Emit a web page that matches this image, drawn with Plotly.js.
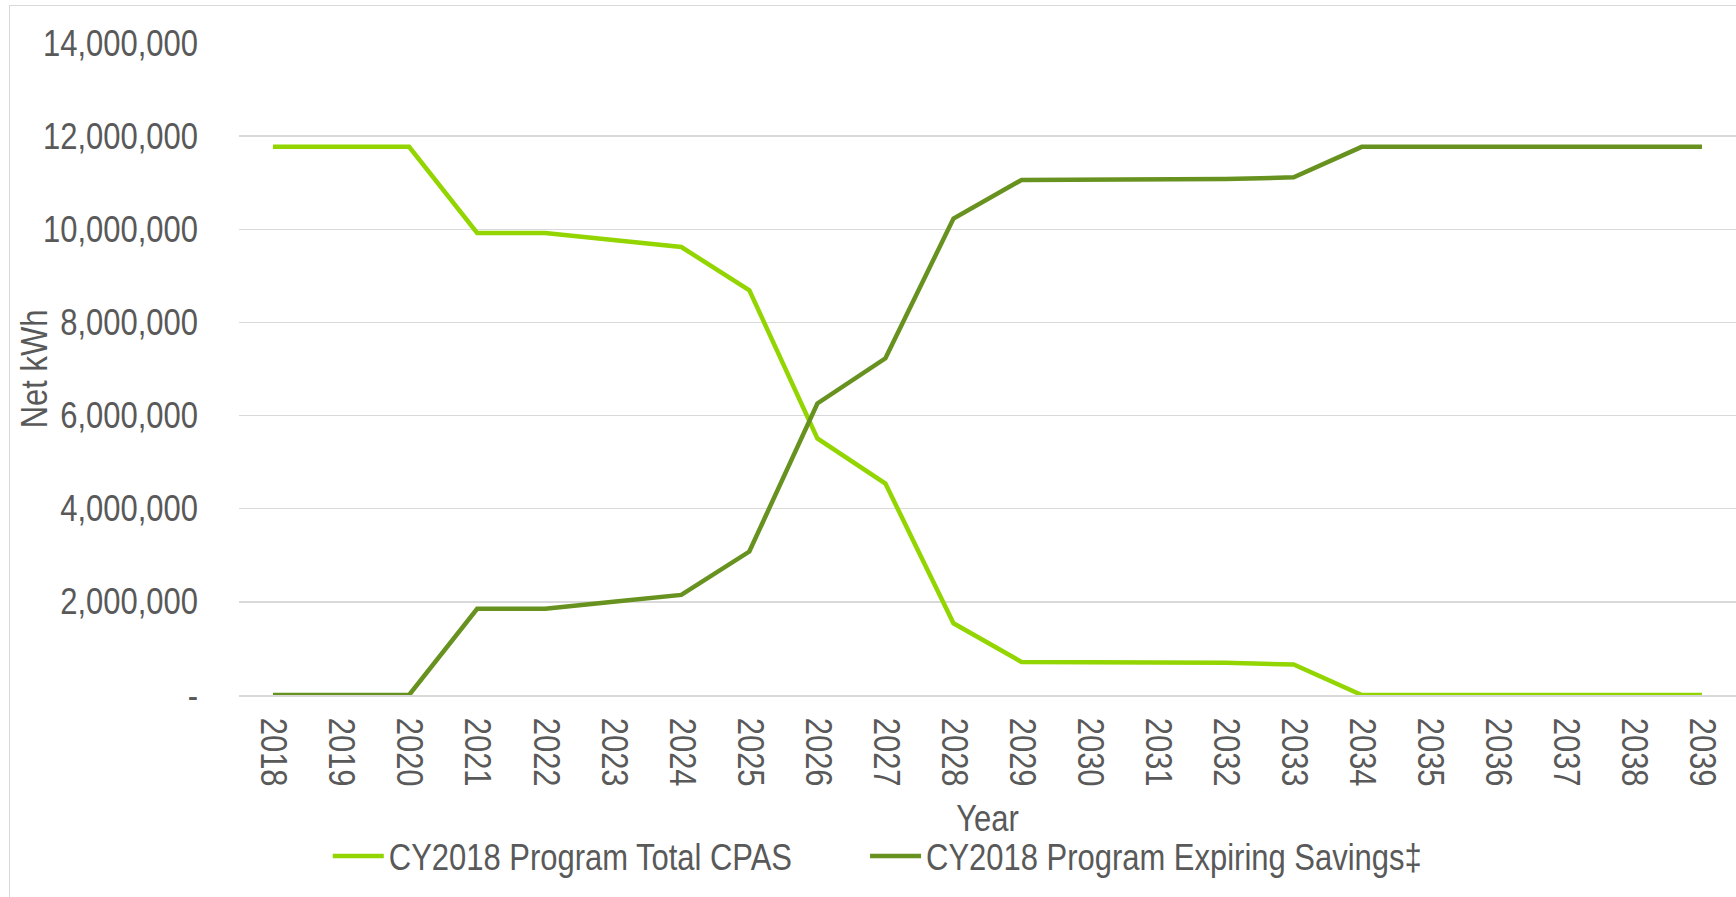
<!DOCTYPE html>
<html>
<head>
<meta charset="utf-8">
<script src="https://cdn.plot.ly/plotly-3.0.1.min.js"></script>
<style>
  html, body { margin: 0; padding: 0; background: #ffffff; overflow: hidden; }
  #chart { width: 1736px; height: 897px; position: absolute; left: 0; top: 0; }
  #frame { position: absolute; left: 9px; top: 5px; width: 1800px; height: 1000px;
           border-left: 1.5px solid #d9d9d9; border-top: 1.5px solid #d9d9d9; pointer-events: none; }
</style>
</head>
<body>
<div id="chart"></div>
<div id="frame"></div>
<script>
const years = ['2018','2019','2020','2021','2022','2023','2024','2025','2026','2027','2028',
               '2029','2030','2031','2032','2033','2034','2035','2036','2037','2038','2039'];
const totalCPAS = [11770000, 11770000, 11770000, 9920000, 9920000, 9770000, 9620000, 8690000,
                   5510000, 4540000, 1540000, 710000, 710000, 710000, 690000, 655000,
                   0, 0, 0, 0, 0, 0];
const expiringSavings = [0, 0, 0, 1850000, 1850000, 2000000, 2150000, 3080000,
                         6260000, 7230000, 10230000, 11060000, 11060000, 11060000, 11080000, 11115000,
                         11770000, 11770000, 11770000, 11770000, 11770000, 11770000];
const yTickVals = [0, 2000000, 4000000, 6000000, 8000000, 10000000, 12000000, 14000000];
const yTickText = ['-', '2,000,000', '4,000,000', '6,000,000', '8,000,000', '10,000,000', '12,000,000', '14,000,000'];
const seriesNames = ['CY2018 Program Total CPAS', 'CY2018 Program Expiring Savings‡'];
const xTitle = 'Year';
const yTitle = 'Net kWh';

const FONT = '"Liberation Sans Narrow", "Arial Narrow", "Liberation Sans", Arial, sans-serif';
const TXT = '#595959';
const NARROW = 0.86;  // emulate a narrow (condensed) face

const traces = [
  { x: years, y: totalCPAS, name: seriesNames[0], type: 'scatter', mode: 'lines',
    line: { color: '#93D500', width: 4.5 }, legend: 'legend' },
  { x: years, y: expiringSavings, name: seriesNames[1], type: 'scatter', mode: 'lines',
    line: { color: '#68921F', width: 4.5 }, legend: 'legend2' }
];

const legendStyle = {
  orientation: 'h', xanchor: 'left', y: -0.247, yanchor: 'middle',
  font: { family: FONT, color: TXT, size: 36 }, itemwidth: 51, bgcolor: 'rgba(0,0,0,0)'
};

const layout = {
  width: 1736, height: 897,
  margin: { l: 239, r: 0, t: 43, b: 202 },
  paper_bgcolor: '#ffffff', plot_bgcolor: '#ffffff',
  font: { family: FONT, color: TXT, size: 36 },
  showlegend: true,
  legend: Object.assign({}, legendStyle, { x: 0.0593 }),
  legend2: Object.assign({}, legendStyle, { x: 0.4182 }),
  xaxis: {
    type: 'category', range: [-0.5, 21.5], tickangle: 90,
    showgrid: false, showline: true, linecolor: '#d9d9d9', linewidth: 1.5,
    ticks: '', ticklabelstandoff: 14, tickfont: { family: FONT, color: TXT, size: 36 },
    title: { text: xTitle, font: { family: FONT, color: TXT, size: 36 }, standoff: 6 },
    automargin: false, fixedrange: true
  },
  yaxis: {
    range: [0, 14000000], tickvals: yTickVals, ticktext: yTickText,
    showgrid: true, gridcolor: '#d9d9d9', gridwidth: 1.5, zeroline: false, showline: false,
    ticks: '', ticklabelstandoff: 40, tickfont: { family: FONT, color: TXT, size: 36 },
    automargin: false, fixedrange: true
  },
  annotations: [
    { text: yTitle, xref: 'paper', yref: 'paper', x: (34 - 239) / 1497, y: 0.5,
      xanchor: 'center', yanchor: 'middle', textangle: -90, showarrow: false,
      font: { family: FONT, color: TXT, size: 36 } }
  ]
};

Plotly.newPlot('chart', traces, layout, { displayModeBar: false, staticPlot: true }).then(function () {
  document.querySelectorAll('#chart svg text').forEach(function (el) {
    const w = el.getComputedTextLength();
    if (w > 0) {
      el.setAttribute('textLength', (w * NARROW).toFixed(2));
      el.setAttribute('lengthAdjust', 'spacingAndGlyphs');
    }
  });
});
</script>
</body>
</html>
